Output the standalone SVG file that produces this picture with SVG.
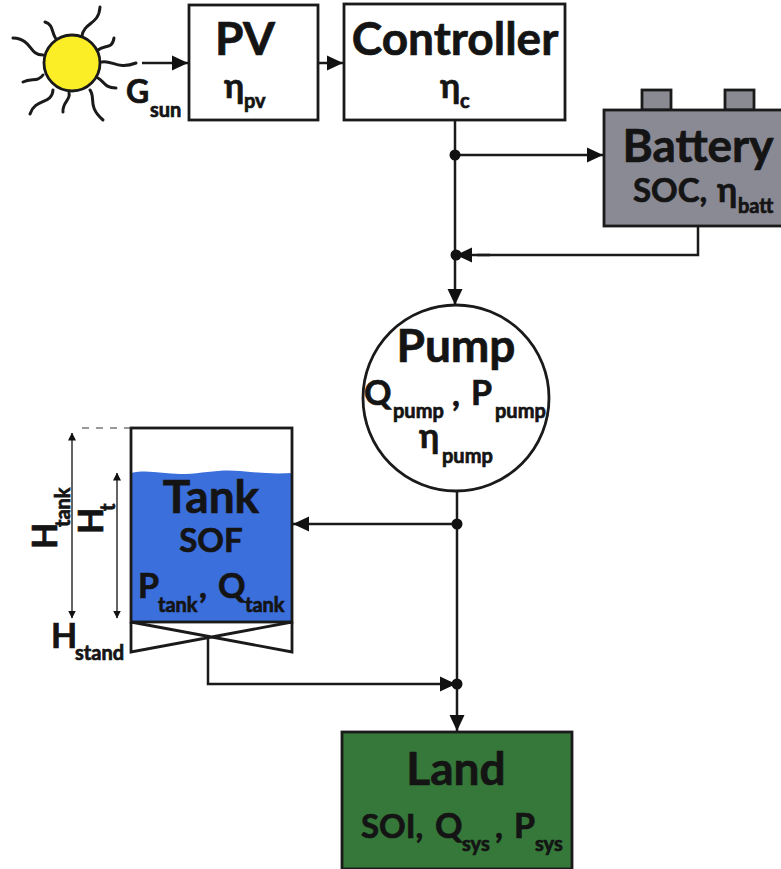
<svg xmlns="http://www.w3.org/2000/svg" width="781" height="869" viewBox="0 0 781 869">
<defs>
<marker id="ah" markerUnits="userSpaceOnUse" markerWidth="17" markerHeight="16" refX="16" refY="8" orient="auto"><path d="M0 0.5L16 8L0 15.5Z" fill="#111"/></marker>
<marker id="dim" markerUnits="userSpaceOnUse" markerWidth="8" markerHeight="8" refX="7.5" refY="4" orient="auto-start-reverse"><path d="M0 0L8 4L0 8Z" fill="#111"/></marker>
</defs>
<style>
text{font-family:"Lato","Open Sans","DejaVu Sans",sans-serif;font-weight:700;fill:#141414;stroke:#141414;stroke-width:.7}
.box{stroke:#1a1a1a;stroke-width:2.8}
.line{fill:none;stroke:#1a1a1a;stroke-width:2.5}
.ray{fill:none;stroke:#1a1a1a;stroke-width:3;stroke-linecap:round}
.t{font-size:46px}.n{font-size:34px}.v{font-size:33px}.s{font-size:20px}
.m{text-anchor:middle}
</style>
<g id="sun">
<circle cx="72" cy="63" r="28" fill="#fbee26" stroke="#1a1a1a" stroke-width="2.8"/>
<path class="ray" d="M82 36C84 22 99 25 100 7"/>
<path class="ray" d="M56 39C51 32 54 25 45 22"/>
<path class="ray" d="M43 55C28 55 33 39 13 38"/>
<path class="ray" d="M43 75C38 82 32 78 23 82"/>
<path class="ray" d="M53 90C52 105 35 98 30 114"/>
<path class="ray" d="M69 93C71 100 62 102 63 112"/>
<path class="ray" d="M90 90C96 98 87 106 103 120"/>
<path class="ray" d="M98 78C104 81 104 88 116 88"/>
<path class="ray" d="M102 62C112 60 118 70 136 63"/>
<path class="ray" d="M98 50C105 44 112 50 114 38"/>
</g>
<g id="g-sun-label"><text x="126" y="103" font-size="32">G</text><text x="150" y="117" class="s">sun</text></g>
<g id="pv">
<rect x="189" y="5" width="129" height="115" fill="#fff" class="box"/>
<text x="245" y="55" class="t m">PV</text>
<text x="224" y="98" class="n">η</text><text x="244" y="108" class="s">pv</text>
</g>
<g id="controller">
<rect x="344" y="4" width="221" height="116" fill="#fff" class="box"/>
<text x="455" y="55" class="t m">Controller</text>
<text x="440" y="98" class="n">η</text><text x="460" y="108" class="s">c</text>
</g>
<g id="battery">
<rect x="642" y="90" width="29" height="20" fill="#8a8a93" class="box"/>
<rect x="725" y="90" width="29" height="20" fill="#8a8a93" class="box"/>
<rect x="604" y="110" width="179" height="116" fill="#8a8a95" class="box"/>
<text x="698" y="162" class="t m">Battery</text>
<text x="633" y="202" class="v">SOC,</text><text x="717" y="202" class="n">η</text><text x="738" y="213" class="s">batt</text>
</g>
<g id="pump">
<circle cx="456" cy="398" r="93" fill="#fff" class="box"/>
<text x="456" y="362" class="t m">Pump</text>
<text x="364" y="405" class="n">Q</text><text x="393" y="418" class="s">pump</text>
<text x="452" y="406" class="n">,</text>
<text x="471" y="405" class="n">P</text><text x="495" y="418" class="s">pump</text>
<text x="419" y="448" class="n">η</text><text x="442" y="463" class="s">pump</text>
</g>
<g id="tank">
<path d="M131 473C150 469 165 475 185 474C205 473 220 469 240 471C258 473 275 474 292 473V622H131Z" fill="#3b6fdc"/>
<rect x="131" y="428" width="161" height="194" fill="none" class="box"/>
<text x="211" y="513" class="t m">Tank</text>
<text x="211" y="552" class="v m">SOF</text>
<text x="138" y="598" class="n">P</text><text x="158" y="612" class="s">tank</text>
<text x="199" y="598" class="n">,</text>
<text x="218" y="598" class="n">Q</text><text x="245" y="612" class="s">tank</text>
<path class="box" fill="none" d="M131 622L292 652V622M131 622V652L292 622"/>
</g>
<g id="tank-dimensions">
<path d="M82 428H131" fill="none" stroke="#333" stroke-width="1" stroke-dasharray="7 7"/>
<path d="M72 433V618" fill="none" stroke="#222" stroke-width="1.4" marker-start="url(#dim)" marker-end="url(#dim)"/>
<path d="M117 473V618" fill="none" stroke="#222" stroke-width="1.4" marker-start="url(#dim)" marker-end="url(#dim)"/>
<text transform="translate(57,549) rotate(-90)" class="n">H</text>
<text transform="translate(70,527) rotate(-90)" class="s">tank</text>
<text transform="translate(103,534) rotate(-90)" class="n">H</text>
<text transform="translate(115,511) rotate(-90)" class="s">t</text>
<text x="51" y="648" class="n">H</text><text x="75" y="660" class="s">stand</text>
</g>
<g id="land">
<rect x="342" y="732" width="230" height="137" fill="#35783a" class="box"/>
<text x="456" y="785" class="t m">Land</text>
<text x="361" y="838" class="v">SOI,</text><text x="435" y="838" class="n">Q</text><text x="462" y="851" class="s">sys</text>
<text x="495" y="838" class="n">,</text>
<text x="514" y="838" class="n">P</text><text x="535" y="851" class="s">sys</text>
</g>
<g id="connectors">
<path class="line" d="M142 63H188" marker-end="url(#ah)"/>
<path class="line" d="M318 63H343" marker-end="url(#ah)"/>
<path class="line" d="M455 120V305" marker-end="url(#ah)"/>
<path class="line" d="M455 155H603" marker-end="url(#ah)"/>
<path class="line" d="M698 226V255H477"/>
<path class="line" d="M490 255H456" marker-end="url(#ah)"/>
<path class="line" d="M457 491V731" marker-end="url(#ah)"/>
<path class="line" d="M457 524H293" marker-end="url(#ah)"/>
<path class="line" d="M208 637V684H456" marker-end="url(#ah)"/>
<circle cx="455" cy="155" r="5.5" fill="#111"/>
<circle cx="456" cy="255" r="5.5" fill="#111"/>
<circle cx="457" cy="524" r="5.5" fill="#111"/>
<circle cx="457" cy="684" r="5.5" fill="#111"/>
</g>
</svg>
